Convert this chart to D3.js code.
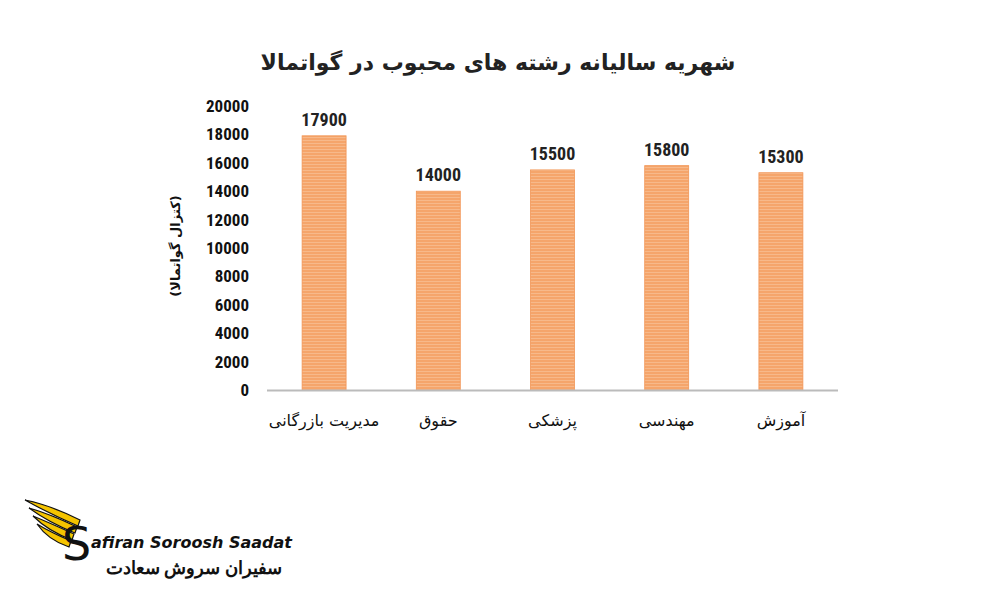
<!DOCTYPE html>
<html><head><meta charset="utf-8">
<script src="https://cdn.jsdelivr.net/npm/d3@7/dist/d3.min.js"></script>
<style>body{margin:0;background:#fff}</style></head>
<body><svg id="c" width="1000" height="600"></svg>
<script>
const categories = ["مدیریت بازرگانی","حقوق","پزشکی","مهندسی","آموزش"];
const values = [17900,14000,15500,15800,15300];
const yTicks = [0,2000,4000,6000,8000,10000,12000,14000,16000,18000,20000];
const title = "شهریه سالیانه رشته های محبوب در گواتمالا";
const yLabel = "(کتزال گواتمالا)";

const svg = d3.select("#c");
const defs = svg.append("defs");
const pat = defs.append("pattern").attr("id","st").attr("patternUnits","userSpaceOnUse").attr("width",4).attr("height",3);
pat.append("rect").attr("width",4).attr("height",3).attr("fill","#F5A56B");
pat.append("rect").attr("y",2).attr("width",4).attr("height",1).attr("fill","#F7B98A");

const x = d3.scaleBand().domain(categories).range([267,838]).paddingInner(0.615).paddingOuter(0.3075);
const y = d3.scaleLinear().domain([0,20000]).range([390,106]);
const font = "'DejaVu Sans', sans-serif";
const numFont = "'Liberation Sans Narrow','Roboto Condensed','Liberation Sans',sans-serif";

svg.append("text").attr("x",498).attr("y",70).attr("text-anchor","middle")
  .attr("font-family",font).attr("font-weight","bold").attr("font-size",22).attr("fill","#222").text(title);

svg.selectAll(".yt").data(yTicks).join("text").attr("x",249).attr("y",d=>y(d)+6)
  .attr("text-anchor","end").attr("font-family",numFont).attr("font-stretch","condensed")
  .attr("font-weight","bold").attr("font-size",17).attr("fill","#111").text(d=>d);

svg.append("text").attr("transform","translate(180,246) rotate(-90)").attr("text-anchor","middle")
  .attr("font-family",font).attr("font-weight","bold").attr("font-size",13).attr("fill","#111").text(yLabel);

svg.selectAll(".bar").data(values).join("rect")
  .attr("x",(d,i)=>x(categories[i])).attr("y",d=>y(d)).attr("width",x.bandwidth())
  .attr("height",d=>390-y(d)).attr("fill","url(#st)").attr("stroke","#F29555").attr("stroke-width",0.8);

svg.append("line").attr("x1",267).attr("x2",838).attr("y1",390.5).attr("y2",390.5).attr("stroke","#bbb").attr("stroke-width",2);

svg.selectAll(".vl").data(values).join("text")
  .attr("x",(d,i)=>x(categories[i])+x.bandwidth()/2).attr("y",d=>y(d)-10).attr("text-anchor","middle")
  .attr("font-family",numFont).attr("font-stretch","condensed").attr("font-weight","bold").attr("font-size",18).attr("fill","#222").text(d=>d);

svg.selectAll(".cl").data(categories).join("text")
  .attr("x",d=>x(d)+x.bandwidth()/2).attr("y",426).attr("text-anchor","middle")
  .attr("font-family",font).attr("font-size",16).attr("fill","#111").text(d=>d);

// logo
const g = svg.append("g");
[0,1,2,3].forEach(i=>{
  g.append("path").attr("d",`M${25+i*4},${500+i*8} Q${50},${505+i*9} ${80-i*3},${520+i*7} L${78-i*3},${526+i*7} Q${48},${513+i*9} ${25+i*4},${500+i*8} Z`)
   .attr("fill","#F5C400").attr("stroke","#111").attr("stroke-width",1.2);
});
g.append("text").attr("x",62).attr("y",560).attr("font-family","'DejaVu Sans',sans-serif").attr("font-size",46).attr("fill","#111").text("S");
g.append("text").attr("x",91).attr("y",548).attr("font-family","'DejaVu Sans',sans-serif").attr("font-weight","bold").attr("font-style","italic").attr("font-size",16).attr("fill","#111").text("afiran Soroosh Saadat");
g.append("text").attr("x",282).attr("y",574).attr("text-anchor","end").attr("font-family","'Noto Sans',sans-serif").attr("font-weight","bold").attr("font-size",18).attr("fill","#111").text("سفیران سروش سعادت");
</script></body></html>
